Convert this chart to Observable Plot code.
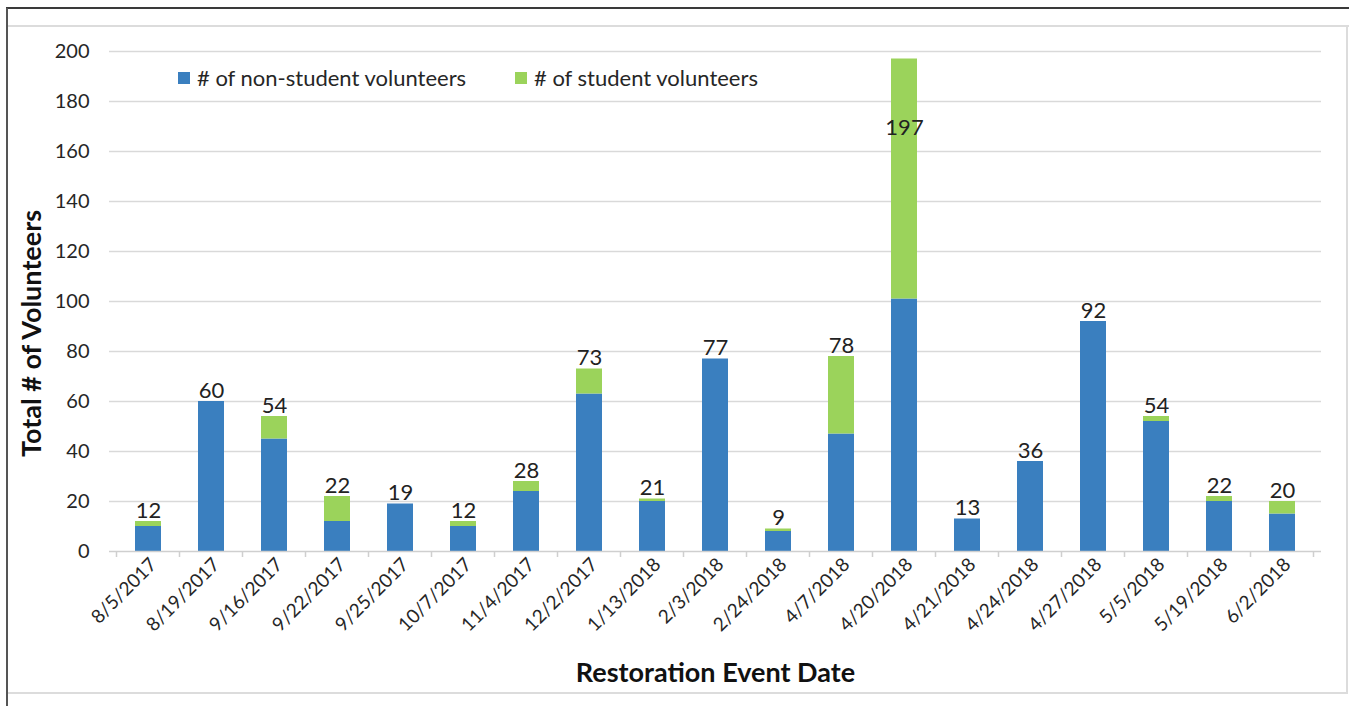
<!DOCTYPE html>
<html>
<head>
<meta charset="utf-8">
<script src="https://cdn.jsdelivr.net/npm/d3@7"></script>
<script src="https://cdn.jsdelivr.net/npm/@observablehq/plot@0.6"></script>
<style>
  html, body { margin: 0; padding: 0; background: #fff; }
  body { width: 1349px; height: 706px; position: relative; overflow: hidden; font-family: Lato, "Open Sans", sans-serif; }
  #chart { position: absolute; left: 0; top: 0; }
  .line { position: absolute; }
  .legend { position: absolute; top: 64px; font-size: 22px; color: #262626; display: flex; align-items: center; white-space: nowrap; }
  .legend .sw { width: 12px; height: 12px; display: inline-block; margin-right: 7px; }
</style>
</head>
<body>
<div class="line" style="left:6px; top:7px; width:1343px; height:2px; background:#3a3a3a;"></div>
<div class="line" style="left:6px; top:8px; width:2px; height:698px; background:#555;"></div>
<div class="line" style="left:8px; top:25px; width:1341px; height:2px; background:#dcdcdc;"></div>
<div class="line" style="left:1346px; top:26px; width:2px; height:667px; background:#dcdcdc;"></div>
<div class="line" style="left:8px; top:692px; width:1340px; height:2px; background:#dcdcdc;"></div>
<div id="chart"></div>
<div class="legend" style="left:178px;"><span class="sw" style="background:#3a7fbf"></span># of non-student volunteers</div>
<div class="legend" style="left:515px;"><span class="sw" style="background:#9bd35b"></span># of student volunteers</div>
<script>
const dates = ["8/5/2017","8/19/2017","9/16/2017","9/22/2017","9/25/2017","10/7/2017","11/4/2017","12/2/2017","1/13/2018","2/3/2018","2/24/2018","4/7/2018","4/20/2018","4/21/2018","4/24/2018","4/27/2018","5/5/2018","5/19/2018","6/2/2018"];
const nonStudent = [10,60,45,12,19,10,24,63,20,77,8,47,101,13,36,92,52,20,15];
const student    = [2,0,9,10,0,2,4,10,1,0,1,31,96,0,0,0,2,2,5];
const yTicks = [0,20,40,60,80,100,120,140,160,180,200];
const seriesNames = ["# of non-student volunteers", "# of student volunteers"];
const seriesColors = ["#3a7fbf", "#9bd35b"];

const rows = dates.flatMap((d, i) => [
  {date: d, series: seriesNames[0], value: nonStudent[i]},
  {date: d, series: seriesNames[1], value: student[i]}
]);
const totals = dates.map((d, i) => ({date: d, total: nonStudent[i] + student[i]}));

const chart = Plot.plot({
  width: 1349,
  height: 706,
  marginLeft: 109,
  marginRight: 28,
  marginTop: 51,
  marginBottom: 155,
  style: {fontFamily: "Lato, 'Open Sans', sans-serif", background: "transparent", color: "#262626"},
  x: {domain: dates, paddingInner: 0.58, paddingOuter: 0.29, label: null},
  y: {domain: [0, 200], label: null},
  color: {domain: seriesNames, range: seriesColors},
  marks: [
    Plot.ruleY(yTicks.filter(t => t > 0), {stroke: "#d9d9d9", strokeWidth: 1.5}),
    Plot.barY(rows, {x: "date", y: "value", fill: "series"}),
    Plot.ruleY([0], {stroke: "#cfcfcf", strokeWidth: 1.5}),
    Plot.axisY({ticks: yTicks, tickSize: 0, tickPadding: 20, fontSize: 20, label: null, fill: "#262626"}),
    Plot.axisX({tickRotate: -45, tickSize: 0, tickPadding: 10, dx: 5, fontSize: 19, label: null, fill: "#262626"}),
    Plot.text(totals.filter(d => d.total < 150), {x: "date", y: "total", text: "total", lineAnchor: "bottom", dy: -4, fontSize: 22, fill: "#222"}),
    Plot.text(totals.filter(d => d.total >= 150), {x: "date", y: "total", text: "total", lineAnchor: "middle", dy: 69, fontSize: 22, fill: "#222"}),
    Plot.text(["Restoration Event Date"], {frameAnchor: "bottom", textAnchor: "middle", dy: 122, lineAnchor: "middle", fontSize: 27, fontWeight: "bold", fill: "#111"}),
    Plot.text(["Total # of Volunteers"], {frameAnchor: "left", textAnchor: "middle", dx: -77, dy: 32, rotate: -90, lineAnchor: "middle", fontSize: 27, fontWeight: "bold", fill: "#111"})
  ]
});
document.getElementById("chart").appendChild(chart);

// category boundary tick marks below the axis, positioned via Plot's x scale
const xs = chart.scale("x");
const step = xs.apply(dates[1]) - xs.apply(dates[0]);
const bw = xs.bandwidth;
const y0 = chart.scale("y").apply(0);
const edges = dates.map(d => xs.apply(d) - (step - bw) / 2);
edges.push(edges[edges.length - 1] + step);
d3.select(chart).append("g")
  .selectAll("line").data(edges).join("line")
  .attr("x1", d => d).attr("x2", d => d)
  .attr("y1", y0).attr("y2", y0 + 6)
  .attr("stroke", "#cfcfcf").attr("stroke-width", 1.5);
</script>
</body>
</html>
